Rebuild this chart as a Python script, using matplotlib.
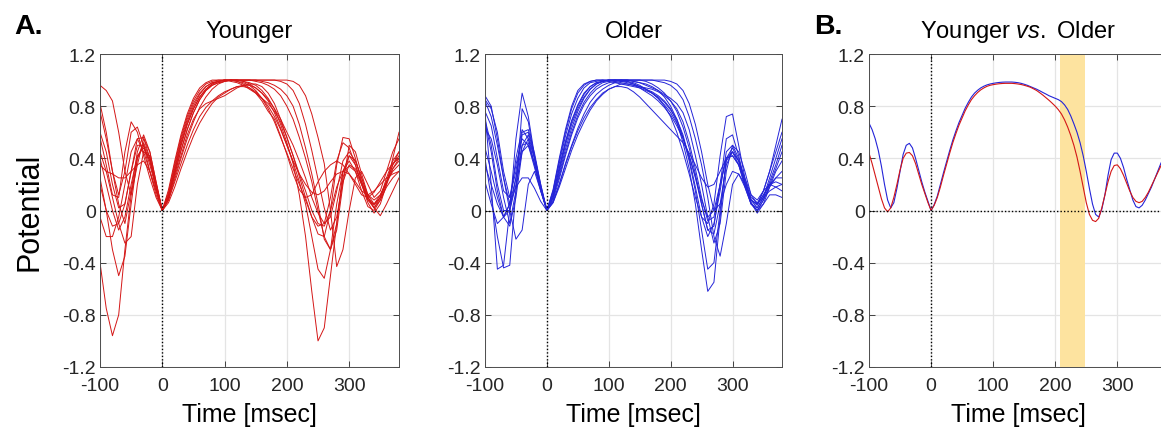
import matplotlib
matplotlib.use("Agg")
import numpy as np
import matplotlib.pyplot as plt

# ---------------- data ----------------
time_ms = np.arange(-100, 381, 10)          # sample times of single traces (ms)
time_mean_ms = np.arange(-100, 381, 5)      # sample times of grand means (ms)
xticks = [-100, 0, 100, 200, 300]
yticks = [-1.2, -0.8, -0.4, 0, 0.4, 0.8, 1.2]
ytick_labels = ["-1.2", "-0.8", "-0.4", "0", "0.4", "0.8", "1.2"]
panel_titles = ["Younger", "Older"]
sig_window = (208, 248)                      # shaded window in panel B (ms)

younger_traces = [
    [0.96,0.92,0.84,0.6,0.3,0.12,0.35,0.55,0.45,0.22,0.0, 0.14,0.36,0.56,0.72,0.84,0.92,0.97,0.99,1.0,1.0, 1.0,0.99,0.97,0.94,0.9,0.84,0.76,0.7,0.57,0.43, 0.28,0.16,0.1,0.12,0.22,0.3,0.35,0.38,0.35,0.28, 0.2,0.12,0.1,0.14,0.22,0.3,0.36,0.4],
    [-0.4,-0.75,-0.96,-0.8,-0.3,0.12,0.4,0.5,0.38,0.18,0.0, 0.1,0.28,0.46,0.62,0.75,0.85,0.92,0.96,0.98,0.99, 1.0,1.0,0.99,0.98,0.96,0.92,0.86,0.78,0.66,0.52, 0.36,0.12,-0.2,-0.62,-1.0,-0.9,-0.5,-0.1,0.3,0.42, 0.35,0.2,0.08,0.05,0.12,0.22,0.32,0.4],
    [0.25,0.0,-0.3,-0.5,-0.35,0.05,0.4,0.52,0.4,0.2,0.0, 0.08,0.24,0.4,0.55,0.68,0.79,0.87,0.93,0.97,0.99, 1.0,1.0,0.99,0.97,0.94,0.9,0.84,0.75,0.63,0.5, 0.37,0.22,0.05,-0.2,-0.45,-0.52,-0.3,0.05,0.3,0.38, 0.3,0.15,0.03,0.0,0.08,0.18,0.25,0.3],
    [0.56,0.35,0.12,0.1,0.45,0.68,0.6,0.42,0.25,0.1,0.0, 0.12,0.32,0.52,0.68,0.8,0.89,0.95,0.98,0.99,1.0, 1.0,1.0,1.0,1.0,1.0,1.0,1.0,1.0,1.0,1.0, 0.99,0.96,0.88,0.74,0.56,0.36,0.0,-0.43,-0.3,0.0, 0.25,0.3,0.2,0.1,0.15,0.3,0.45,0.55],
    [0.82,0.6,0.3,0.12,0.3,0.6,0.64,0.5,0.3,0.12,0.0, 0.1,0.28,0.46,0.62,0.75,0.85,0.92,0.96,0.98,0.99, 1.0,1.0,1.0,1.0,0.99,0.98,0.96,0.93,0.88,0.8, 0.7,0.56,0.4,0.22,0.0,-0.2,-0.3,-0.15,0.2,0.5, 0.45,0.28,0.12,0.05,0.1,0.22,0.35,0.42],
    [0.45,0.3,0.1,-0.1,-0.25,-0.2,0.2,0.45,0.42,0.2,0.0, 0.06,0.18,0.32,0.45,0.57,0.67,0.75,0.82,0.87,0.9, 0.93,0.95,0.95,0.94,0.91,0.86,0.8,0.72,0.62,0.5, 0.38,0.28,0.2,0.14,0.12,0.15,0.22,0.28,0.3,0.28, 0.22,0.15,0.12,0.15,0.2,0.25,0.28,0.3],
    [0.76,0.55,0.3,0.05,-0.1,0.15,0.45,0.58,0.45,0.22,0.0, 0.16,0.38,0.58,0.74,0.86,0.94,0.98,1.0,1.0,1.0, 0.99,0.98,0.96,0.93,0.9,0.86,0.82,0.76,0.68,0.56, 0.42,0.26,0.1,-0.05,-0.18,-0.2,0.0,0.35,0.56,0.55, 0.4,0.22,0.08,0.02,0.1,0.25,0.38,0.45],
    [0.4,0.2,0.0,-0.15,-0.05,0.2,0.42,0.48,0.38,0.18,0.0, 0.08,0.22,0.36,0.5,0.62,0.72,0.79,0.84,0.88,0.91, 0.93,0.95,0.96,0.96,0.94,0.9,0.85,0.78,0.7,0.6, 0.5,0.38,0.25,0.1,-0.02,-0.1,-0.05,0.15,0.38,0.45, 0.38,0.25,0.12,0.08,0.12,0.22,0.3,0.35],
    [0.35,0.3,0.28,0.25,0.25,0.3,0.35,0.38,0.3,0.15,0.0, 0.12,0.34,0.54,0.7,0.82,0.9,0.95,0.98,0.99,1.0, 1.0,1.0,1.0,1.0,1.0,0.99,0.98,0.96,0.93,0.88, 0.8,0.66,0.48,0.28,0.05,-0.22,-0.3,-0.1,0.25,0.42, 0.38,0.25,0.1,0.02,0.08,0.2,0.32,0.38],
    [0.2,0.0,-0.12,-0.1,0.05,0.3,0.55,0.56,0.4,0.2,0.0, 0.1,0.3,0.5,0.66,0.78,0.87,0.93,0.97,0.99,1.0, 1.0,0.99,0.98,0.96,0.92,0.86,0.78,0.68,0.56,0.44, 0.32,0.2,0.08,-0.05,-0.12,-0.1,0.1,0.38,0.52,0.48, 0.35,0.2,0.06,-0.02,0.05,0.2,0.4,0.6],
    [0.6,0.45,0.2,0.02,0.05,0.3,0.5,0.5,0.35,0.17,0.0, 0.1,0.3,0.5,0.66,0.78,0.87,0.93,0.97,0.99,1.0, 1.0,1.0,1.0,1.0,1.0,1.0,1.0,1.0,0.99,0.97, 0.92,0.82,0.66,0.46,0.24,0.02,-0.15,-0.05,0.22,0.35, 0.32,0.22,0.1,0.04,0.1,0.22,0.35,0.45],
    [-0.05,-0.2,-0.2,-0.05,0.2,0.45,0.55,0.45,0.3,0.15,0.0, 0.1,0.26,0.42,0.58,0.7,0.78,0.82,0.84,0.86,0.88, 0.91,0.94,0.96,0.97,0.97,0.95,0.9,0.82,0.7,0.56, 0.42,0.28,0.15,0.0,-0.1,-0.12,0.0,0.18,0.3,0.34, 0.3,0.2,0.1,0.02,-0.04,0.05,0.15,0.25],
]

older_traces = [
    [0.88,0.8,0.55,0.25,0.05,0.25,0.58,0.6,0.42,0.2,0.0, 0.16,0.4,0.62,0.8,0.92,0.97,0.99,1.0,1.0,1.0, 1.0,1.0,1.0,0.99,0.98,0.96,0.94,0.92,0.89,0.86, 0.82,0.75,0.62,0.42,0.2,-0.05,-0.25,-0.1,0.3,0.5, 0.45,0.3,0.12,0.05,0.15,0.3,0.5,0.7],
    [0.75,0.2,-0.45,-0.42,0.0,0.55,0.9,0.72,0.42,0.18,0.0, 0.1,0.3,0.5,0.66,0.78,0.87,0.93,0.97,0.99,1.0, 1.0,1.0,0.99,0.97,0.95,0.93,0.91,0.88,0.84,0.78, 0.68,0.52,0.32,0.05,-0.3,-0.62,-0.55,-0.05,0.4,0.48, 0.38,0.2,0.05,0.02,0.1,0.22,0.35,0.5],
    [0.4,0.1,-0.2,-0.44,-0.42,0.15,0.78,0.68,0.4,0.17,0.0, 0.08,0.24,0.42,0.58,0.71,0.81,0.88,0.93,0.96,0.98, 0.99,1.0,1.0,0.99,0.98,0.97,0.95,0.92,0.87,0.8, 0.7,0.56,0.38,0.15,-0.15,-0.45,-0.4,0.0,0.38,0.45, 0.35,0.18,0.05,0.0,0.08,0.18,0.25,0.3],
    [0.84,0.72,0.5,0.25,0.0,-0.22,-0.15,0.2,0.3,0.15,0.0, 0.06,0.18,0.32,0.46,0.58,0.68,0.77,0.84,0.89,0.93, 0.95,0.95,0.94,0.91,0.87,0.82,0.77,0.72,0.67,0.62, 0.57,0.52,0.44,0.35,0.25,0.18,0.2,0.3,0.4,0.42, 0.35,0.22,0.1,0.06,0.1,0.15,0.18,0.2],
    [0.22,0.05,-0.1,-0.05,0.05,0.18,0.25,0.25,0.17,0.07,0.0, 0.1,0.28,0.47,0.63,0.76,0.86,0.93,0.97,0.99,1.0, 1.0,1.0,1.0,1.0,1.0,1.0,1.0,0.99,0.98,0.96, 0.92,0.85,0.72,0.55,0.35,0.1,-0.2,-0.35,-0.1,0.2, 0.28,0.2,0.08,0.05,0.12,0.2,0.22,0.2],
    [0.68,0.45,0.15,-0.05,0.05,0.4,0.62,0.55,0.35,0.16,0.0, 0.15,0.38,0.6,0.78,0.9,0.96,0.99,1.0,1.0,0.99, 0.98,0.97,0.96,0.95,0.94,0.92,0.9,0.86,0.8,0.72, 0.6,0.45,0.28,0.1,-0.05,-0.1,0.05,0.42,0.72,0.74, 0.5,0.25,0.08,0.02,0.1,0.25,0.4,0.55],
    [0.63,0.55,0.35,0.1,-0.1,0.15,0.5,0.58,0.4,0.18,0.0, 0.12,0.32,0.52,0.68,0.8,0.89,0.95,0.98,0.99,1.0, 1.0,1.0,1.0,1.0,1.0,0.99,0.97,0.94,0.9,0.84, 0.76,0.64,0.48,0.28,0.05,-0.15,-0.12,0.2,0.55,0.58, 0.42,0.22,0.06,0.0,0.08,0.2,0.32,0.45],
    [0.76,0.65,0.4,0.15,0.1,0.35,0.55,0.5,0.33,0.15,0.0, 0.07,0.2,0.36,0.5,0.63,0.74,0.83,0.89,0.93,0.96, 0.98,0.99,0.99,0.98,0.96,0.93,0.9,0.86,0.81,0.75, 0.67,0.56,0.42,0.25,0.05,-0.15,-0.18,0.05,0.35,0.45, 0.38,0.22,0.08,0.04,0.12,0.2,0.25,0.25],
    [0.48,0.3,0.1,-0.05,-0.12,0.1,0.45,0.55,0.4,0.18,0.0, 0.14,0.36,0.57,0.74,0.86,0.94,0.98,0.99,1.0,1.0, 0.99,0.98,0.97,0.96,0.95,0.94,0.93,0.91,0.88,0.84, 0.78,0.68,0.52,0.32,0.1,-0.08,-0.05,0.2,0.4,0.42, 0.35,0.2,0.08,0.05,0.15,0.3,0.45,0.6],
    [0.85,0.78,0.6,0.3,0.1,0.3,0.6,0.62,0.44,0.2,0.0, 0.1,0.26,0.44,0.6,0.73,0.83,0.9,0.95,0.98,0.99, 1.0,1.0,1.0,1.0,1.0,1.0,1.0,1.0,1.0,0.99, 0.97,0.92,0.82,0.66,0.45,0.2,0.0,0.05,0.2,0.3, 0.28,0.18,0.05,0.0,0.05,0.12,0.12,0.1],
    [0.7,0.5,0.2,0.0,0.0,0.25,0.5,0.52,0.36,0.16,0.0, 0.12,0.33,0.53,0.69,0.81,0.9,0.95,0.98,0.99,1.0, 1.0,0.99,0.98,0.97,0.95,0.93,0.9,0.87,0.83,0.77, 0.7,0.58,0.4,0.18,-0.05,-0.2,-0.1,0.15,0.45,0.5, 0.4,0.22,0.06,-0.02,0.05,0.18,0.3,0.38],
    [0.35,0.2,0.05,-0.05,0.0,0.2,0.45,0.5,0.36,0.17,0.0, 0.06,0.2,0.35,0.49,0.61,0.71,0.79,0.85,0.9,0.93, 0.95,0.97,0.97,0.96,0.94,0.91,0.88,0.84,0.79,0.73, 0.65,0.55,0.42,0.26,0.08,-0.05,0.0,0.2,0.4,0.45, 0.38,0.25,0.12,0.08,0.15,0.2,0.18,0.15],
]

younger_mean = [0.44,0.36,0.27,0.18,0.09,0.02,-0.01,0.02,0.1,0.2,0.31,0.4,0.44,0.445,0.42,0.36,0.28,0.2,0.13,0.06,0.0,
                0.04,0.1,0.18,0.27,0.355,0.44,0.52,0.59,0.655,0.71,0.765,0.81,0.85,0.88,0.905,0.925,0.94,0.952,0.96,0.965,
                0.969,0.972,0.974,0.975,0.975,0.975,0.973,0.97,0.966,0.96,0.953,0.945,0.933,0.92,0.903,0.885,0.865,0.845,0.823,0.8,
                0.773,0.74,0.695,0.64,0.575,0.5,0.41,0.3,0.18,0.06,-0.03,-0.075,-0.085,-0.06,0.02,0.12,0.22,0.3,0.345,0.35,
                0.32,0.27,0.21,0.15,0.1,0.07,0.06,0.07,0.1,0.14,0.19,0.24,0.29,0.34,0.38,0.42]
older_mean = [0.67,0.62,0.55,0.46,0.34,0.2,0.08,0.02,0.06,0.17,0.3,0.43,0.5,0.515,0.48,0.4,0.31,0.22,0.14,0.07,0.0,
              0.045,0.11,0.2,0.29,0.375,0.46,0.54,0.61,0.675,0.73,0.785,0.83,0.87,0.9,0.922,0.94,0.953,0.963,0.97,0.975,
              0.979,0.982,0.984,0.985,0.985,0.985,0.983,0.98,0.975,0.968,0.96,0.95,0.94,0.93,0.918,0.905,0.893,0.88,0.87,0.86,
              0.85,0.835,0.81,0.775,0.725,0.665,0.6,0.52,0.42,0.3,0.17,0.05,-0.03,-0.05,0.01,0.12,0.27,0.39,0.44,0.44,
              0.4,0.33,0.24,0.16,0.08,0.03,0.02,0.04,0.08,0.13,0.18,0.24,0.3,0.36,0.41,0.46]

# ---------------- style ----------------
plt.rcParams['font.family'] = ['Liberation Sans', 'DejaVu Sans']
plt.rcParams['axes.unicode_minus'] = False
plt.rcParams['mathtext.fontset'] = 'custom'
plt.rcParams['mathtext.rm'] = 'Liberation Sans'
plt.rcParams['mathtext.it'] = 'Liberation Sans:italic'

RED = '#d41616'
BLUE = '#2424d8'
W, H = 1161, 439

fig = plt.figure(figsize=(W / 100, H / 100), dpi=100)


def px_axes(left, right, top=55, bottom=368):
    return [left / W, 1 - bottom / H, (right - left) / W, (bottom - top) / H]


def style(ax):
    ax.set_xlim(-100, 380)
    ax.set_ylim(-1.2, 1.2)
    ax.set_xticks(xticks)
    ax.set_yticks(yticks)
    ax.set_yticklabels(ytick_labels)
    ax.grid(True, color='#e4e4e4', lw=0.9)
    ax.set_axisbelow(True)
    ax.tick_params(direction='in', top=True, right=True, length=4, width=0.6,
                   labelsize=14, colors='#262626')
    ax.tick_params(axis='x', pad=7)
    ax.tick_params(axis='y', pad=3)
    for s in ax.spines.values():
        s.set_color('#4d4d4d')
        s.set_linewidth(0.7)
    ax.axhline(0, color='k', ls=(0, (1, 1.5)), lw=1.0, zorder=3)
    ax.axvline(0, color='k', ls=(0, (1, 1.5)), lw=1.0, zorder=3)
    ax.set_xlabel('Time [msec]', fontsize=18, labelpad=6)


ax1 = fig.add_axes(px_axes(100, 399))
ax2 = fig.add_axes(px_axes(485, 782))
ax3 = fig.add_axes(px_axes(869, 1167))

for tr in younger_traces:
    ax1.plot(time_ms, tr, color=RED, lw=0.7)
for tr in older_traces:
    ax2.plot(time_ms, tr, color=BLUE, lw=0.7)

ax3.axvspan(sig_window[0], sig_window[1], color='#fde39f', lw=0, zorder=1)
ax3.plot(time_mean_ms, older_mean, color=BLUE, lw=0.8, zorder=2)
ax3.plot(time_mean_ms, younger_mean, color=RED, lw=0.8, zorder=2)

for ax in (ax1, ax2, ax3):
    style(ax)

for ax, title in zip((ax1, ax2), panel_titles):
    ax.text(0.5, 1 + 17.5 / 313, title, transform=ax.transAxes,
            ha='center', va='baseline', fontsize=17)
ax3.text(0.5, 1 + 17.5 / 313, r'Younger $\mathit{vs.}$ Older', transform=ax3.transAxes,
         ha='center', va='baseline', fontsize=17)

fig.text(30 / W, 1 - 211.5 / H, 'Potential', rotation=90, ha='center', va='center',
         fontsize=22)
fig.text(14 / W, 1 - 33.5 / H, 'A.', ha='left', va='baseline', fontsize=20.5,
         fontweight='bold')
fig.text(814 / W, 1 - 34.5 / H, 'B.', ha='left', va='baseline', fontsize=20.5,
         fontweight='bold')

fig.savefig('out.png', dpi=100)
